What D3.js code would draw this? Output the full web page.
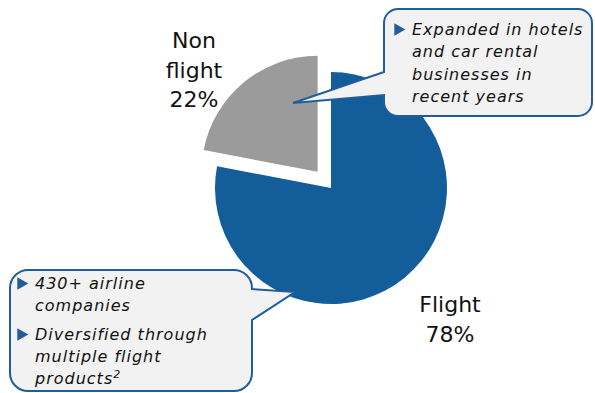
<!DOCTYPE html>
<html>
<head>
<meta charset="utf-8">
<script src="https://cdn.jsdelivr.net/npm/d3@7"></script>
<style>
  body { margin: 0; background: #fff; }
  text { font-family: "DejaVu Sans", Verdana, sans-serif; }
</style>
</head>
<body>
<div id="container"></div>
<script>
/* DATA */
const categories = ["Flight", "Non flight"];
const values = [78, 22];
const labelLines = [["Flight", "78%"], ["Non", "flight", "22%"]];
const topNotes = [["Expanded in hotels", "and car rental", "businesses in", "recent years"]];
const bottomNotes = [["430+ airline", "companies"], ["Diversified through", "multiple flight", "products"]];

/* CONSTANTS */
const width = 595;
const height = 393;
const cx = 331, cy = 188, radius = 116;
const explode = 21;
const colors = ["#125d9a", "#9b9b9b"];
const boxFill = "#f2f2f2";
const boxStroke = "#1f5e9a";

const svg = d3.select("#container")
  .append("svg")
  .attr("width", width)
  .attr("height", height);

/* PIE */
const pie = d3.pie().sort(null).value(d => d)
  .startAngle(0).endAngle(2 * Math.PI);
const arcs = pie(values);
const arc = d3.arc().innerRadius(0).outerRadius(radius);

const offset = (d, i) => {
  if (i === 0) return [0, 0];
  const mid = (d.startAngle + d.endAngle) / 2;
  return [Math.sin(mid) * explode, -Math.cos(mid) * explode];
};

svg.selectAll("path.slice")
  .data(arcs)
  .join("path")
  .attr("class", "slice")
  .attr("d", arc)
  .attr("fill", (d, i) => colors[i])
  .attr("transform", (d, i) => {
    const o = offset(d, i);
    return `translate(${cx + o[0]},${cy + o[1]})`;
  });

// slice labels
const labelPos = [[450, 312], [194, 48]];
labelLines.forEach((lines, i) => {
  const t = svg.append("text")
    .attr("text-anchor", "middle")
    .attr("font-size", 22)
    .attr("fill", "#111");
  lines.forEach((s, j) => {
    t.append("tspan")
      .attr("x", labelPos[i][0])
      .attr("y", labelPos[i][1] + j * 29.5)
      .text(s);
  });
});

/* CALLOUTS */
function callout(b, side, ya, yb, tip) {
  const {x0, y0, x1, y1, r} = b;
  const p = d3.path();
  p.moveTo(x0 + r, y0);
  p.lineTo(x1 - r, y0);
  p.arcTo(x1, y0, x1, y0 + r, r);
  if (side === "right") {
    p.lineTo(x1, ya);
    p.lineTo(tip[0], tip[1]);
    p.lineTo(x1, yb);
  }
  p.lineTo(x1, y1 - r);
  p.arcTo(x1, y1, x1 - r, y1, r);
  p.lineTo(x0 + r, y1);
  p.arcTo(x0, y1, x0, y1 - r, r);
  if (side === "left") {
    p.lineTo(x0, yb);
    p.lineTo(tip[0], tip[1]);
    p.lineTo(x0, ya);
  }
  p.lineTo(x0, y0 + r);
  p.arcTo(x0, y0, x0 + r, y0, r);
  p.closePath();
  return p.toString();
}

function notes(groups, x, y0, lineH, gap, sup) {
  let y = y0;
  groups.forEach((lines, gi) => {
    svg.append("path")
      .attr("d", d3.symbol(d3.symbolTriangle, 70)())
      .attr("fill", boxStroke)
      .attr("transform", `translate(${x - 14},${y - 5.5}) rotate(90)`);
    lines.forEach((s, j) => {
      const t = svg.append("text")
        .attr("x", x)
        .attr("y", y)
        .attr("font-size", 16)
        .attr("letter-spacing", 1)
        .attr("font-style", "italic")
        .attr("fill", "#111")
        .text(s);
      if (sup && gi === groups.length - 1 && j === lines.length - 1) {
        t.append("tspan")
          .attr("font-size", 11)
          .attr("letter-spacing", 0)
          .attr("dy", -6)
          .text("2");
      }
      y += lineH;
    });
    y += gap;
  });
}

svg.append("path")
  .attr("d", callout({x0: 384, y0: 9, x1: 592, y1: 116, r: 14}, "left", 72, 95, [293, 103]))
  .attr("fill", boxFill)
  .attr("stroke", boxStroke)
  .attr("stroke-width", 2);
notes(topNotes, 412, 35, 22.3, 0, false);

svg.append("path")
  .attr("d", callout({x0: 10, y0: 270, x1: 252, y1: 391, r: 18}, "right", 289, 320, [295, 292]))
  .attr("fill", boxFill)
  .attr("stroke", boxStroke)
  .attr("stroke-width", 2);
notes(bottomNotes, 35, 289, 22, 7, true);
</script>
</body>
</html>
